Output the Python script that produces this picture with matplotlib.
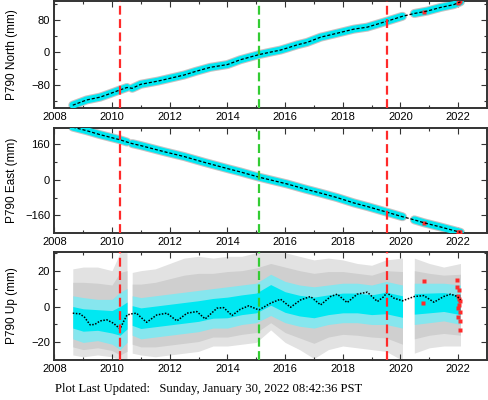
import numpy as np
import matplotlib
matplotlib.use("Agg")
import matplotlib.pyplot as plt
from matplotlib.ticker import MultipleLocator

# ---------------- data ----------------
segments = [(2008.64, 2010.52), (2010.70, 2020.07), (2020.48, 2022.08)]

north_t = [2008.64, 2009.12, 2009.59, 2009.94, 2010.28, 2010.52, 2010.70, 2011.0, 2011.6, 2011.9,
           2012.5, 2012.9, 2013.4, 2014.0, 2014.45, 2015.11, 2015.5, 2015.84, 2016.07, 2016.42,
           2016.76, 2017.23, 2017.81, 2018.38, 2018.85, 2019.31, 2019.54, 2020.07, 2020.48,
           2020.93, 2021.39, 2021.85, 2022.08]
north_v = [-131, -118, -111, -102, -93, -87, -89, -79, -71, -66,
           -56, -47, -37, -30, -18, -5, 1, 6, 11, 19,
           25, 38, 48, 58, 63, 73, 78, 90, 97,
           103, 112, 119, 126]

east_t = [2008.64, 2009.12, 2009.59, 2010.28, 2010.52, 2010.70, 2011.0, 2011.8, 2012.5, 2013.2,
          2014.0, 2014.45, 2015.11, 2016.07, 2016.7, 2017.23, 2017.8, 2018.38, 2018.9, 2019.54,
          2020.07, 2020.48, 2020.81, 2021.39, 2021.85, 2022.08]
east_v = [236, 220, 202, 179, 169, 162, 153, 126, 104, 78,
          50, 35, 11, -19, -42, -60, -80, -104, -122, -146,
          -166, -180, -193, -212, -228, -236]

up_t = [2008.64, 2008.89, 2009.05, 2009.24, 2009.4, 2009.59, 2009.82, 2010.05, 2010.28, 2010.4,
        2010.52, 2010.70, 2010.85, 2011.0, 2011.2, 2011.55, 2011.9, 2012.25, 2012.6, 2012.94,
        2013.23, 2013.64, 2013.87, 2014.16, 2014.45, 2014.74, 2015.09, 2015.5, 2015.84, 2016.19,
        2016.54, 2016.88, 2017.23, 2017.58, 2017.81, 2018.15, 2018.5, 2018.85, 2019.2, 2019.43,
        2019.52, 2019.77, 2020.07, 2020.48, 2020.81, 2021.16, 2021.5, 2021.74, 2021.97, 2022.08]
up_v = [-3.7, -4.1, -6.0, -10.2, -10.0, -8.0, -7.4, -9.3, -12.5, -8.4,
        -4.7, -4.0, -3.7, -6.0, -8.8, -4.7, -3.7, -8.0, -3.7, -2.8,
        -6.9, -0.9, -0.6, -5.0, -1.5, 0.4, -1.9, 1.9, 4.1, -0.4,
        3.7, 5.6, 0.9, 5.6, 6.9, 2.2, 6.9, 8.0, 2.8, 5.6,
        7.8, 4.7, 3.2, 5.6, 6.1, 2.4, 5.6, 6.9, 5.6, 3.7]

# up-component spread of the daily solutions (envelopes)
env_t = [2008.64, 2009.0, 2009.5, 2010.0, 2010.28, 2010.52,
         2010.70, 2011.0, 2011.5, 2012.0, 2012.5, 2013.0, 2013.5, 2014.0, 2014.5, 2015.0,
         2015.5, 2016.0, 2016.5, 2017.0, 2017.5, 2018.0, 2018.5, 2019.0, 2019.5, 2020.07,
         2020.48, 2021.0, 2021.5, 2022.08]
grey_lo = [-27, -28, -27, -28, -30, -30,
           -26, -27, -28, -27, -26, -25, -22, -22, -21, -20,
           -13, -20, -24, -29, -24, -22, -23, -24, -25, -30,
           -26, -23, -22, -22]
grey_hi = [21, 22, 22, 20, 30, 30,
           19, 20, 21, 24, 27, 28, 27, 28, 28, 30,
           30, 30, 28, 26, 27, 26, 24, 23, 26, 27,
           27, 24, 22, 24]
cyan_lo = [-18, -20, -19, -21, -24, -20,
           -16, -18, -17, -16, -15, -14, -12, -12, -10, -9,
           -5, -9, -11, -12, -10, -9, -9, -10, -10, -12,
           -10, -9, -8, -10]
cyan_hi = [6, 5, 4, 4, 8, 10,
           6, 5, 6, 7, 8, 9, 10, 11, 12, 13,
           18, 14, 12, 11, 12, 13, 13, 12, 14, 12,
           13, 13, 13, 12]

red_n_t = [2020.82, 2021.98, 2022.02, 2022.05]
red_n_v = [100, 124, 126, 127]
red_e_t = [2020.82, 2021.98, 2022.02, 2022.06]
red_e_v = [-194, -234, -235, -236]
red_u_t = [2020.82, 2020.78, 2021.95, 2021.97, 2021.98, 2022.0, 2022.0, 2022.02,
           2022.03, 2022.04, 2022.05, 2022.06, 2022.07, 2022.08]
red_u_v = [14, 2, 15, 11, 6, -1, -6, 4, 9, 1, -3, -13, 3, -8]

offsets_red = [2010.27, 2019.52]
offsets_green = [2015.11]

ylabels = ["P790 North (mm)", "P790 East (mm)", "P790 Up (mm)"]
ylims = [(-138, 128), (-239, 232), (-29.8, 30.4)]
ymajor = [80, 160, 20]
yminor = [40, 80, 10]

# ---------------- plotting ----------------
CYAN = "#00e8f2"
CYAN_LIGHT = "#86e6ee"
GREY = "#c4c4c4"
RED = "#ff2a2a"
GREEN = "#33cc33"

plt.rcParams["font.family"] = ["Liberation Sans", "DejaVu Sans"]
fig = plt.figure(figsize=(4.88, 4.0), dpi=100)

boxes = [(0.1113, 0.73, 0.8867, 0.2675),
         (0.1113, 0.4175, 0.8867, 0.2625),
         (0.1113, 0.10, 0.8867, 0.27)]
axes = [fig.add_axes(b) for b in boxes]


def seg_mask(t, a, b):
    t = np.asarray(t)
    return (t >= a - 1e-6) & (t <= b + 1e-6)


for i, (ax, tt, vv) in enumerate(zip(axes, [north_t, east_t, up_t], [north_v, east_v, up_v])):
    tt = np.asarray(tt)
    vv = np.asarray(vv, dtype=float)
    if i < 2:
        for a, b in segments:
            m = seg_mask(tt, a, b)
            ax.plot(tt[m], vv[m], color=GREY, lw=6.5, solid_capstyle="round", zorder=2)
            ax.plot(tt[m], vv[m], color=CYAN, lw=5.0, solid_capstyle="round", zorder=3)
        rt, rv = [(red_n_t, red_n_v), (red_e_t, red_e_v)][i]
        ax.plot(rt, rv, "s", color=RED, ms=2.5, mec="none", zorder=4)
    else:
        et = np.asarray(env_t)
        glo_a = np.asarray(grey_lo, float)
        ghi_a = np.asarray(grey_hi, float)
        clo_a = np.asarray(cyan_lo, float)
        chi_a = np.asarray(cyan_hi, float)
        for a, b in segments:
            m = seg_mask(et, a, b)
            ax.fill_between(et[m], glo_a[m], ghi_a[m], color="#e2e2e2", lw=0, zorder=1)
            ax.fill_between(et[m], (glo_a[m] + clo_a[m]) / 2, (ghi_a[m] + chi_a[m]) / 2,
                            color="#cfcfcf", lw=0, zorder=1.5)
            ax.fill_between(et[m], clo_a[m], chi_a[m], color=CYAN_LIGHT, lw=0, zorder=2)
            span = chi_a[m] - clo_a[m]
            ax.fill_between(et[m], clo_a[m] + 0.25 * span, chi_a[m] - 0.25 * span,
                            color=CYAN, lw=0, zorder=2.5)
        ax.plot(red_u_t, red_u_v, "s", color=RED, ms=2.5, mec="none", zorder=4)
    if i < 2:
        ax.plot(tt, vv, color="black", lw=0.9, ls=(0, (2.5, 1.5)), zorder=5)
    else:
        ax.plot(tt, vv, color="black", lw=1.1, ls=(0, (1, 1)), zorder=5)

    for x in offsets_red:
        ax.axvline(x, color=RED, lw=1.6, ls=(0, (4, 2)), zorder=6)
    for x in offsets_green:
        ax.axvline(x, color=GREEN, lw=1.6, ls=(0, (4, 2)), zorder=6)

    ax.set_xlim(2008, 2023)
    ax.set_ylim(*ylims[i])
    ax.xaxis.set_major_locator(MultipleLocator(2))
    ax.xaxis.set_minor_locator(MultipleLocator(1))
    ax.yaxis.set_major_locator(MultipleLocator(ymajor[i]))
    ax.yaxis.set_minor_locator(MultipleLocator(yminor[i]))
    ax.tick_params(which="both", direction="in", top=True, right=True,
                   labelsize=8, color="#333333", width=0.8, pad=3)
    ax.tick_params(which="major", length=4)
    ax.tick_params(which="minor", length=2.5)
    for s in ax.spines.values():
        s.set_linewidth(1.4)
        s.set_color("#333333")
    ax.set_ylabel(ylabels[i], fontsize=8.5, labelpad=2)
    ax.yaxis.set_label_coords(-0.085, 0.5)

fig.text(0.113, 0.02, "Plot Last Updated:   Sunday, January 30, 2022 08:42:36 PST",
         family=["Liberation Serif", "DejaVu Serif"], fontsize=9.1, ha="left", va="baseline")

fig.savefig("out.png", dpi=100)
